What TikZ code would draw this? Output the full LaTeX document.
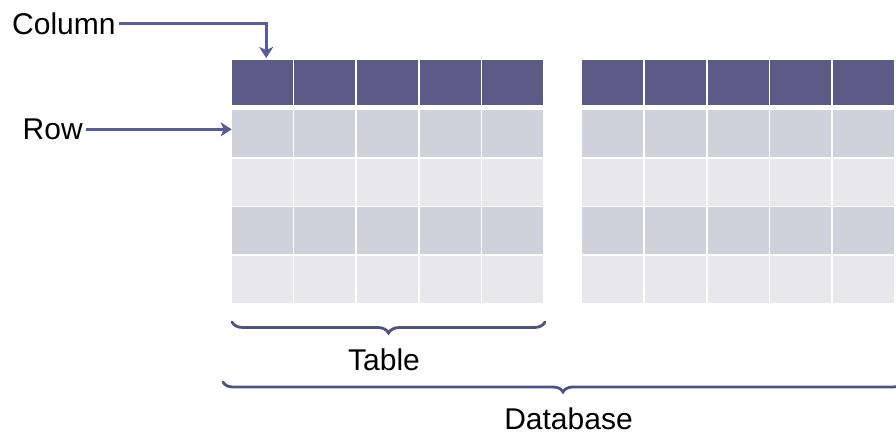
\documentclass[tikz,border=0pt]{standalone}
\usepackage{fontspec}
\setmainfont{Liberation Sans}
\usetikzlibrary{decorations.pathreplacing,arrows.meta}
\definecolor{hdr}{RGB}{92,91,136}
\definecolor{rowA}{RGB}{209,209,219}
\definecolor{rowB}{RGB}{232,232,236}
\definecolor{arr}{RGB}{90,91,155}
\definecolor{brc}{RGB}{80,80,130}
\begin{document}
\begin{tikzpicture}[x=1pt,y=-1pt,
 cell/.style={rectangle,inner sep=0,outer sep=0,draw=none,anchor=north west,minimum width=61pt},
 lbl/.style={font=\fontsize{30}{34}\selectfont,inner sep=0,text=black},
 pointer/.style={draw=arr,line width=3pt,-{Stealth[length=11pt,width=14pt,inset=3pt]}},
 bracket/.style={draw=brc,line width=2.8pt,line cap=round,decorate,decoration={brace,amplitude=11pt,mirror}}]
\useasboundingbox[fill=white] (0,0) rectangle (896,435);
\foreach \t/\xs in {1/231.7,2/582.3} {
  \foreach \c in {0,...,4} {
    \node[cell,fill=hdr,minimum height=45pt] (t\t-0-\c) at ({\xs+62.6*\c},60) {};
    \foreach \r/\rc in {1/rowA,2/rowB,3/rowA,4/rowB} {
      \node[cell,fill=\rc,minimum height=47pt] (t\t-\r-\c) at ({\xs+62.6*\c},{110.5+48.5*(\r-1)}) {};
    }
  }
}
\node[lbl,anchor=base west] (colL) at (12,34.5) {Column};
\node[lbl,anchor=base west] (rowL) at (22.5,139.5) {Row};
\draw[pointer] ([xshift=3pt]colL.east) -| ([xshift=4pt,yshift=2pt]t1-0-0.north);
\draw[pointer] ([xshift=3pt]rowL.east) -- (rowL.east -| t1-1-0.west);
\coordinate (tb1) at (232,322);
\coordinate (tb2) at (545,322);
\draw[bracket] (tb1) -- (tb2);
\node[lbl,anchor=base] (tableL) at (384,370) {Table};
\coordinate (db1) at (223,382);
\coordinate (db2) at (903,382);
\draw[bracket,decoration={amplitude=10pt}] (db1) -- (db2);
\node[lbl,anchor=base] (dbL) at (568.5,429.5) {Database};
\end{tikzpicture}
\end{document}
